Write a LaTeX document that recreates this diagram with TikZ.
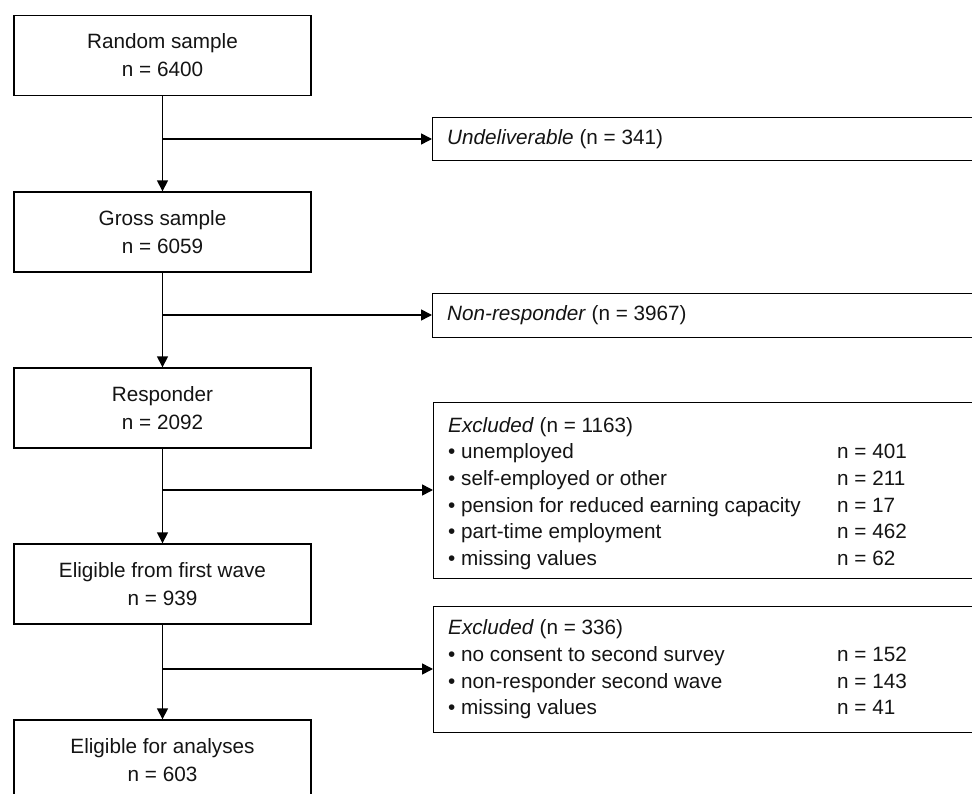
\documentclass[tikz,border=0pt]{standalone}
\usepackage{fontspec}
\setmainfont{Liberation Sans}
\usetikzlibrary{arrows.meta}
\newcommand{\diagfont}{\fontsize{20.7pt}{28pt}\selectfont}
\newcommand{\listfont}{\fontsize{20.7pt}{26.6pt}\selectfont}
\tikzset{
  mainbox/.style={draw=black, line width=1.4pt, minimum width=297pt, minimum height=80pt,
    align=center, inner sep=0pt, font=\diagfont, text=black!92},
  sidebox/.style={draw=black, line width=1.4pt, minimum width=560pt, anchor=north west,
    inner sep=0pt},
  sidetext/.style={anchor=west, inner sep=0pt, font=\diagfont, text=black!92},
  listtext/.style={anchor=west, inner sep=0pt, font=\listfont, text=black!92},
  conn/.style={draw=black, line width=1.6pt, -{Triangle[length=11pt,width=11pt]}}
}
\begin{document}
\begin{tikzpicture}[x=1pt,y=-1pt]
\useasboundingbox (0,0) rectangle (972,794);
\clip (0,0) rectangle (972,794);
\fill[white] (0,0) rectangle (972,794);

% main column
\node[mainbox] (b1) at (162.5,55.5) {Random sample\\n = 6400};
\node[mainbox] (b2) at (162.5,232) {Gross sample\\n = 6059};
\node[mainbox] (b3) at (162.5,408) {Responder\\n = 2092};
\node[mainbox] (b4) at (162.5,584) {Eligible from first wave\\n = 939};
\node[mainbox] (b5) at (162.5,760) {Eligible for analyses\\n = 603};

% side boxes
\node[sidebox, minimum height=43pt] (s1) at (432,117) {};
\node[sidetext] (s1t) at (447,139) {\textit{Undeliverable} (n = 341)};

\node[sidebox, minimum height=44pt] (s2) at (432,293) {};
\node[sidetext] (s2t) at (447,315) {\textit{Non-responder} (n = 3967)};

\node[sidebox, minimum height=176pt] (s3) at (433,402) {};
\node[listtext] (s3t) at (448,493.5) {\begin{tabular}{@{}p{389pt}@{}l@{}}
\textit{Excluded} (n = 1163) & \\
• unemployed & n = 401\\
• self-employed or other & n = 211\\
• pension for reduced earning capacity & n = 17\\
• part-time employment & n = 462\\
• missing values & n = 62
\end{tabular}};

\node[sidebox, minimum height=126pt] (s4) at (433,606) {};
\node[listtext] (s4t) at (448,669.5) {\begin{tabular}{@{}p{389pt}@{}l@{}}
\textit{Excluded} (n = 336) & \\
• no consent to second survey & n = 152\\
• non-responder second wave & n = 143\\
• missing values & n = 41
\end{tabular}};

% junctions
\coordinate (j1) at (162.5,139);
\coordinate (j2) at (162.5,315);
\coordinate (j3) at (162.5,490);
\coordinate (j4) at (162.5,669);

% connectors
\draw[conn] (b1.south) -- (b2.north);
\draw[conn] (b2.south) -- (b3.north);
\draw[conn] (b3.south) -- (b4.north);
\draw[conn] (b4.south) -- (b5.north);
\draw[conn] (j1) -- (j1 -| s1.west);
\draw[conn] (j2) -- (j2 -| s2.west);
\draw[conn] (j3) -- (j3 -| s3.west);
\draw[conn] (j4) -- (j4 -| s4.west);
\end{tikzpicture}
\end{document}
